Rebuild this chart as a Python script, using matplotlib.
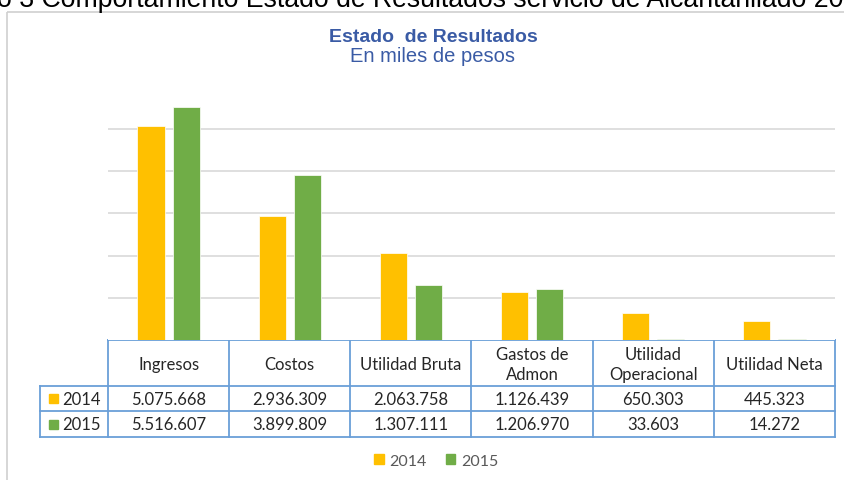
import numpy as np
import matplotlib.pyplot as plt
from matplotlib.patches import Rectangle

categorias = ["Ingresos", "Costos", "Utilidad Bruta", "Gastos de\nAdmon",
              "Utilidad\nOperacional", "Utilidad Neta"]
anios = ["2014", "2015"]
valores_2014 = [5075668, 2936309, 2063758, 1126439, 650303, 445323]
valores_2015 = [5516607, 3899809, 1307111, 1206970, 33603, 14272]

colores = ["#FFC000", "#70AD47"]
borde_tabla = "#6A9FD8"
texto = "#262626"

W, H = 845, 481
fig = plt.figure(figsize=(W / 100, H / 100), dpi=100)

# overlay in pixel coordinates for frame, titles and the data table
ov = fig.add_axes([0, 0, 1, 1])
ov.set_xlim(0, W)
ov.set_ylim(H, 0)
ov.axis("off")

ov.add_patch(Rectangle((7, 12.5), 900, 600, fill=False, edgecolor="#d0d0d0", lw=1.2))
ov.text(-3, 7, "o 3 Comportamiento Estado de Resultados servicio de Alcantarillado 2015",
        fontsize=19.2, family="Liberation Sans", color="black", ha="left", va="baseline")
ov.text(433, 37, "Estado  de Resultados", fontsize=14, fontweight="bold",
        family="Liberation Sans", color="#3A5BA5", ha="center", va="center")
ov.text(433, 56, "En miles de pesos", fontsize=14.5, family="Liberation Sans",
        color="#3A5BA5", ha="center", va="center")

# bar chart
x0, x1, y_top, y_base = 108, 835, 87.5, 341
ax = fig.add_axes([x0 / W, 1 - y_base / H, (x1 - x0) / W, (y_base - y_top) / H])
x = np.arange(len(categorias))
w = 0.225
ax.bar(x - 0.145, valores_2014, w, color=colores[0], edgecolor="white", lw=0.5, zorder=3)
ax.bar(x + 0.145, valores_2015, w, color=colores[1], edgecolor="white", lw=0.5, zorder=3)
ax.set_xlim(-0.5, len(categorias) - 0.5)
ax.set_ylim(0, 6000000)
ax.set_yticks(np.arange(1, 6) * 1000000)
ax.grid(axis="y", color="#d9d9d9", lw=1.2, zorder=0)
ax.tick_params(left=False, bottom=False, labelleft=False, labelbottom=False)
for s in ax.spines.values():
    s.set_visible(False)

# data table
col_w = (x1 - x0) / len(categorias)
edges = [x0 + i * col_w for i in range(len(categorias) + 1)]
filas = [341, 387, 412, 438]
lab_x = 40
kw = dict(color=borde_tabla, lw=1.3, solid_capstyle="projecting")
ov.plot([x0, edges[-1]], [filas[0], filas[0]], **kw)
for yy in filas[1:]:
    ov.plot([lab_x, edges[-1]], [yy, yy], **kw)
for xx in edges:
    ov.plot([xx, xx], [filas[0], filas[-1]], **kw)
ov.plot([lab_x, lab_x], [filas[1], filas[-1]], **kw)

fnt = dict(family="Lato", fontsize=12, color=texto)
for i, cat in enumerate(categorias):
    cx = (edges[i] + edges[i + 1]) / 2
    ov.text(cx, (filas[0] + filas[1]) / 2 + 1, cat, ha="center", va="center",
            linespacing=1.25, **fnt)
    for r, serie in enumerate([valores_2014, valores_2015]):
        s = f"{serie[i]:,}".replace(",", ".")
        ov.text(cx, (filas[r + 1] + filas[r + 2]) / 2 + 0.5, s, ha="center", va="center", **fnt)

for r, anio in enumerate(anios):
    cy = (filas[r + 1] + filas[r + 2]) / 2
    ov.add_patch(Rectangle((49, cy - 4.5), 9, 9, color=colores[r]))
    ov.text(62, cy + 0.5, anio, ha="left", va="center", **fnt)

# legend
handles = [Rectangle((0, 0), 1, 1, color=c) for c in colores]
leg = fig.legend(handles, anios, loc="center", bbox_to_anchor=(436 / W, 1 - 462 / H),
                 ncol=2, frameon=False, handlelength=0.6, handleheight=0.6,
                 handletextpad=0.35, columnspacing=1.2,
                 prop={"family": "Lato", "size": 11.5})
for t in leg.get_texts():
    t.set_color("#595959")

fig.savefig("out.png", dpi=100)
